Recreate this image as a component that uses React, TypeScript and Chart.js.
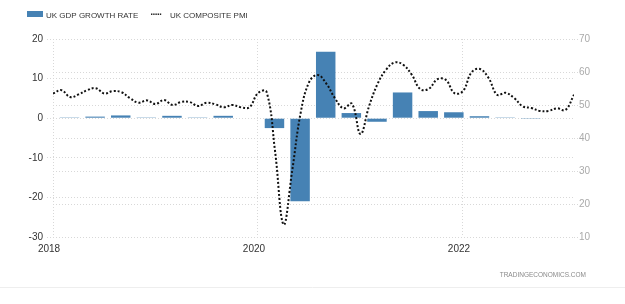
import React, { useEffect, useRef } from 'react';
import { Chart, registerables } from 'chart.js';

Chart.register(...registerables);

// ---- Data ----
const seriesNames = ['UK GDP GROWTH RATE', 'UK COMPOSITE PMI'];

const gdpQuarters = [
  '2018Q1', '2018Q2', '2018Q3', '2018Q4',
  '2019Q1', '2019Q2', '2019Q3', '2019Q4',
  '2020Q1', '2020Q2', '2020Q3', '2020Q4',
  '2021Q1', '2021Q2', '2021Q3', '2021Q4',
  '2022Q1', '2022Q2', '2022Q3', '2022Q4',
];
const gdpGrowth = [
  0.2, 0.4, 0.7, 0.2,
  0.6, 0.2, 0.6, 0.0,
  -2.5, -21.0, 16.8, 1.3,
  -0.9, 6.5, 1.8, 1.5,
  0.5, 0.2, -0.2, 0.0,
];

const pmiStartYear = 2018; // monthly series, first value = January 2018
const pmi2018 = [53.5, 54.5, 52.4, 53.2, 54.5, 55.1, 53.5, 54.2, 53.9, 52.1, 50.7, 51.4];
const pmi2019 = [50.3, 51.5, 50.0, 50.9, 50.9, 49.7, 50.7, 50.2, 49.3, 50.0, 49.3, 49.3];
const pmi2020 = [53.6, 54.0, 36.0, 13.8, 30.0, 47.7, 57.0, 59.1, 56.5, 52.1, 49.0, 50.4];
const pmi2021 = [41.2, 49.6, 56.4, 60.7, 62.9, 62.2, 59.2, 54.8, 54.9, 57.8, 57.6, 53.6];
const pmi2022 = [54.2, 59.9, 60.9, 58.2, 53.1, 53.7, 52.1, 49.6, 49.1, 48.2, 48.2, 49.0];
const pmi2023 = [48.5, 53.1];
const pmiValues = [...pmi2018, ...pmi2019, ...pmi2020, ...pmi2021, ...pmi2022, ...pmi2023];

const xTickYears = [2018, 2020, 2022];
const xTickLabels = ['2018', '2020', '2022'];
const leftAxis = { min: -30, max: 20, step: 10 };
const rightAxis = { min: 10, max: 70, step: 10 };
const watermark = 'TRADINGECONOMICS.COM';

// month index since January of pmiStartYear
const monthIndex = (year: number, month: number) => (year - pmiStartYear) * 12 + month;
const quarterX = (q: string) => {
  const year = parseInt(q.slice(0, 4), 10);
  const qn = parseInt(q.slice(5), 10);
  return monthIndex(year, qn * 3 - 1) - 0.07;
};

const BAR_COLOR = '#4682b4';
const FONT = '"Liberation Sans", Arial, sans-serif';

const decorPlugin = {
  id: 'decor',
  afterDraw(chart: any) {
    const ctx = chart.ctx as CanvasRenderingContext2D;
    ctx.save();
    // legend
    ctx.fillStyle = BAR_COLOR;
    ctx.fillRect(27, 11, 16, 6);
    ctx.font = `8px ${FONT}`;
    ctx.fillStyle = '#333';
    ctx.textBaseline = 'alphabetic';
    ctx.textAlign = 'left';
    ctx.fillText(seriesNames[0], 46, 17.5);
    ctx.fillStyle = '#111';
    for (let i = 0; i < 5; i++) ctx.fillRect(151 + i * 2.2, 13.5, 1.4, 1.4);
    ctx.fillStyle = '#333';
    ctx.fillText(seriesNames[1], 170, 17.5);
    // watermark
    ctx.font = `6.5px ${FONT}`;
    ctx.fillStyle = '#8a8a8a';
    ctx.textAlign = 'right';
    ctx.fillText(watermark, 586, 277);
    // bottom frame line
    ctx.strokeStyle = '#eeeeee';
    ctx.lineWidth = 1;
    ctx.beginPath();
    ctx.moveTo(0, 287.5);
    ctx.lineTo(625, 287.5);
    ctx.stroke();
    ctx.restore();
  },
};

export default function App() {
  const ref = useRef<HTMLCanvasElement | null>(null);

  useEffect(() => {
    if (!ref.current) return;
    const xMax = pmiValues.length - 1;
    const chart = new Chart(ref.current, {
      type: 'bar',
      data: {
        datasets: [
          {
            type: 'line',
            label: seriesNames[1],
            data: pmiValues.map((v, i) => ({ x: i, y: v })),
            yAxisID: 'y1',
            xAxisID: 'x',
            borderColor: '#111',
            borderWidth: 2,
            borderDash: [2, 2],
            pointRadius: 0,
            tension: 0.4,
            fill: false,
            order: 0,
          } as any,
          {
            type: 'bar',
            label: seriesNames[0],
            data: gdpQuarters.map((q, i) => ({ x: quarterX(q), y: gdpGrowth[i] })),
            yAxisID: 'y',
            xAxisID: 'x',
            backgroundColor: BAR_COLOR,
            borderWidth: 0,
            barPercentage: 0.95,
            categoryPercentage: 0.8,
            order: 1,
          } as any,
        ],
      },
      options: {
        animation: false,
        responsive: false,
        maintainAspectRatio: false,
        layout: { padding: { top: 39, left: 0, right: 0, bottom: 0 } },
        plugins: { legend: { display: false }, tooltip: { enabled: false } },
        scales: {
          x: {
            type: 'linear',
            min: 0,
            max: xMax,
            offset: false,
            afterBuildTicks: (s: any) => {
              s.ticks = xTickYears.map((y) => ({ value: monthIndex(y, 0) }));
            },
            ticks: {
              callback: (_v: any, i: number) => xTickLabels[i],
              color: '#333',
              font: { family: FONT, size: 10 },
              padding: 6,
              maxRotation: 0,
              autoSkip: false,
              labelOffset: -4,
            },
            grid: { color: '#d8d8d8', drawTicks: false, lineWidth: 1, offset: false },
            border: { display: false, dash: [1, 2] },
            afterFit: (s: any) => {
              s.height = 67;
            },
          } as any,
          y: {
            position: 'left',
            min: leftAxis.min,
            max: leftAxis.max,
            ticks: {
              stepSize: leftAxis.step,
              color: '#333',
              font: { family: FONT, size: 10 },
              padding: 4,
            },
            grid: { color: '#d8d8d8', tickLength: 6, tickBorderDash: [1, 2], lineWidth: 1 },
            border: { display: false, dash: [1, 2] },
            afterFit: (s: any) => {
              s.width = 53;
            },
          } as any,
          y1: {
            position: 'right',
            min: rightAxis.min,
            max: rightAxis.max,
            ticks: {
              stepSize: rightAxis.step,
              color: '#aaaaaa',
              font: { family: FONT, size: 10 },
              padding: 1,
            },
            grid: { color: '#d8d8d8', tickLength: 4, tickBorderDash: [1, 2], lineWidth: 1 },
            border: { display: false, dash: [1, 2] },
            afterFit: (s: any) => {
              s.width = 51;
            },
          } as any,
        },
      },
      plugins: [decorPlugin],
    });
    return () => chart.destroy();
  }, []);

  return (
    <div style={{ position: 'absolute', left: 0, top: 0, width: 625, height: 304, background: '#fff' }}>
      <canvas ref={ref} width={625} height={304} style={{ width: 625, height: 304, display: 'block' }} />
    </div>
  );
}
